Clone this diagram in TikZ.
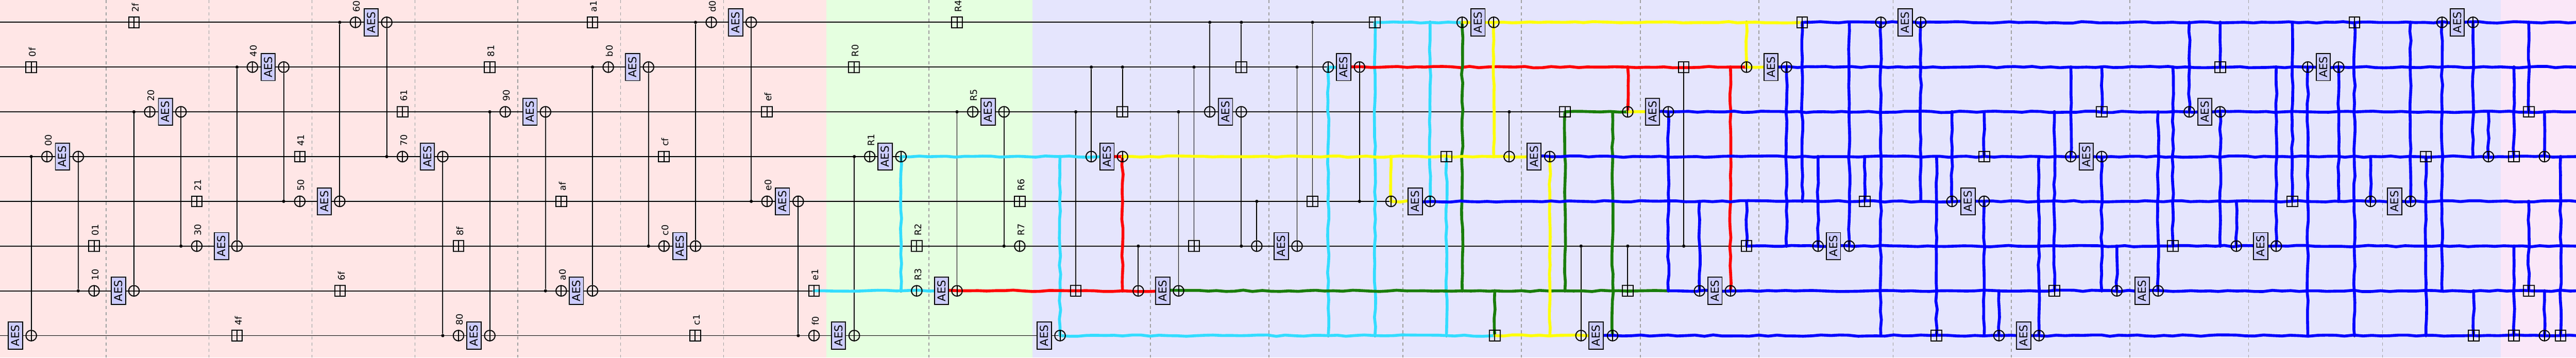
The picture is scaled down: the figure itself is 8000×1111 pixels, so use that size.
\documentclass[tikz,border=0pt]{standalone}
\usepackage{fontspec}
\setmainfont{DejaVu Sans}
\usepackage{tikz}
\usetikzlibrary{positioning,calc,decorations.pathmorphing}
\pgfdeclarelayer{bg}
\pgfdeclarelayer{wires}
\pgfdeclarelayer{trail}
\pgfsetlayers{bg,wires,trail,main}
\definecolor{zonea}{RGB}{255,230,230}
\definecolor{zoneb}{RGB}{229,255,224}
\definecolor{zonec}{RGB}{229,229,253}
\definecolor{zoned}{RGB}{250,231,248}
\definecolor{aesfill}{RGB}{204,204,255}
\definecolor{tcyan}{RGB}{51,221,255}
\definecolor{tred}{RGB}{255,0,0}
\definecolor{tyellow}{RGB}{255,255,0}
\definecolor{tgreen}{RGB}{25,125,10}
\definecolor{tblue}{RGB}{0,0,255}

\begin{document}
\begin{tikzpicture}[x=1pt,y=1pt]
                        \tikzstyle{xorop}=[draw,circle,line width=3.2,minimum size=33,inner sep=0,path picture={\draw[line width=3.2] (path picture bounding box.north) -- (path picture bounding box.south);}]
                        \tikzstyle{addop}=[draw,rectangle,line width=3.2,minimum size=33,inner sep=0,path picture={\draw[line width=3.2] (path picture bounding box.north) -- (path picture bounding box.south);}]
                        \tikzstyle{aes}=[draw,fill=aesfill,rectangle,line width=3,rotate=90,minimum width=84,minimum height=44,inner sep=0,font=\fontsize{34}{40}\selectfont]
                        \tikzstyle{tag}=[rotate=90,anchor=west,inner sep=1,font=\fontsize{28}{32}\selectfont]
                        \tikzstyle{junc}=[circle,fill=black,minimum size=10,inner sep=0]
                        \tikzstyle{wire}=[line width=3]
                        \tikzstyle{sep}=[gray!75,line width=2.5,dash pattern=on 10 off 9]
                        \tikzstyle{trail}=[line width=9,line cap=round,line join=round,decorate,decoration={random steps,segment length=28,amplitude=2.2}]
                        \useasboundingbox (0,0) rectangle (8000,-1111);
                        \pgfmathsetseed{11}
                        {
                            \foreach \r in {0,...,7} {
                                \coordinate (w\r) at (0,{-69.4-139*\r});
                                \coordinate (e\r) at (8000,{-69.4-139*\r});
                            }
                            \foreach \x/\r in {146/3,243/3,97/7,465/2,562/2,292/6,416/6,611/5,736/5,784/1,881/1,931/4,1055/4,1104/0,1201/0,1250/3,1375/3,1424/7,1521/7,1569/2,1694/2,1743/6,1840/6,1889/1,2014/1,2062/5,2160/5,2209/0,2333/0,2382/4,2479/4,2528/7,2653/7,
                                2701/3,2798/3,2847/6,2972/6,3021/2,3118/2,3167/5,
                                3292/7,3389/3,3486/3,3535/6,3660/6,3757/2,3855/2,3903/5,4028/5,4125/1,4222/1,4320/4,4441/4,4541/0,4639/0,4687/3,4813/3,4910/7,5008/7,5055/2,5181/2,
                                5278/6,5374/6,5424/1,5548/1,5646/5,5743/5,5841/0,5965/0,6062/4,6162/4,6208/7,6332/7,6431/3,6527/3,6574/6,6702/6,6799/2,6895/2,6945/5,7069/5,7167/1,7263/1,7362/4,7486/4,7584/0,7680/0,7728/3,7902/3,7902/7} {
                                \node[xorop] (n\x-\r) at (\x,{-69.4-139*\r}) {};
                            }
                            \foreach \x/\r in {416/0,97/1,611/4,292/5,736/7,931/3,1250/2,1521/1,1743/4,1424/5,1056/6,1840/0,2062/3,2382/2,2159/7,2528/6,2652/1,2972/0,2847/5,3167/4,
                                3341/6,3486/2,3708/5,3855/1,4076/4,4270/0,4492/3,4642/7,4860/2,5055/6,5229/1,5424/5,5597/0,5791/4,6014/7,6162/3,6380/6,6527/2,6748/5,6895/1,7119/4,7312/0,7534/3,7682/7,7807/3,7807/7,7853/2,7853/6,7952/7} {
                                \node[addop] (n\x-\r) at (\x,{-69.4-139*\r}) {};
                            }
                            \foreach \x/\r in {48/7,194/3,368/6,514/2,688/5,833/1,1007/4,1153/0,1327/3,1472/7,1646/2,1790/6,1965/1,2111/5,2285/0,2430/4,2604/7,2749/3,2924/6,3069/2,
                                3243/7,3438/3,3611/6,3806/2,3979/5,4173/1,4395/4,4590/0,4764/3,4957/7,5132/2,5326/6,5500/1,5694/5,5917/0,6112/4,6285/7,6479/3,6653/6,6847/2,7021/5,7215/1,7437/4,7631/0} {
                                \node[aes] (a\x-\r) at (\x,{-69.4-139*\r}) {AES};
                            }
                            \foreach \x/\r/\l in {146/3/00,465/2/20,292/6/10,611/5/30,784/1/40,931/4/50,1104/0/60,1250/3/70,1424/7/80,1569/2/90,1743/6/a0,1889/1/b0,2062/5/c0,2209/0/d0,2382/4/e0,2528/7/f0,
                                416/0/2f,97/1/0f,611/4/21,292/5/01,736/7/4f,931/3/41,1250/2/61,1521/1/81,1743/4/af,1424/5/8f,1056/6/6f,1840/0/a1,2062/3/cf,2382/2/ef,2159/7/c1,2528/6/e1,
                                2652/1/R0,2701/3/R1,2847/5/R2,2847/6/R3,2972/0/R4,3021/2/R5,3167/4/R6,3167/5/R7} {
                                \node[tag] (t\x-\r) at ([xshift=4,yshift=13]n\x-\r.north) {\l};
                            }

                            \begin{pgfonlayer}{wires}
                            \foreach \x/\r in {97/3,243/6,416/2,562/5,736/1,881/4,1055/0,1201/3,1375/7,1521/2,1694/6,1840/1,2014/5,2160/0,2333/4,2479/7,2653/3,2798/6,2972/2,3118/5,
                                3292/3,3341/2,3389/1,3486/1,3486/6,3535/5,3660/2,3708/1,3757/0,3855/0,3855/5,3903/4,4028/1,4076/0,4125/7,4222/4,4270/7,4320/3,4441/0,4492/7,4541/6,4639/3,4642/6,4687/2,4813/7,4860/6,4910/5,5008/2,5055/1,5055/5,5181/6,5229/5,
                                5278/4,5374/1,5424/0,5424/4,5548/5,5597/4,5646/3,5743/0,5791/3,5841/7,5965/4,6014/3,6062/2,6162/2,6162/7,6208/6,6332/3,6380/2,6431/1,6527/1,6527/6,6574/5,6702/2,6748/1,6799/0,6895/0,6895/5,6945/4,
                                7069/1,7119/0,7167/7,7263/4,7312/7,7362/3,7486/0,7534/7,7584/6,7680/3,7682/6,7728/2,7807/1,7807/5,7853/0,7853/4,7902/2,7902/6,7952/3} {
                                \node[junc] (n\x-\r) at (\x,{-69.4-139*\r}) {};
                            }
                            \foreach \r in {0,...,7} {
                                \draw[wire] (w\r) -- (e\r);
                            }
                            \foreach \x/\a/\b in {97/3/7,243/3/6,416/2/6,562/2/5,736/1/5,881/1/4,1055/0/4,1201/0/3,1375/3/7,1521/2/7,1694/2/6,1840/1/6,2014/1/5,2160/0/5,2333/0/4,2479/4/7,2653/3/7,2798/3/6,2972/2/6,3118/2/5,
                                3292/3/7,3341/2/6,3389/1/3,3486/1/2,3486/3/6,3535/5/6,3660/2/6,3708/1/5,3757/0/2,3855/0/1,3855/2/5,3903/4/5,4028/1/5,4076/0/4,4125/1/7,4222/1/4,4270/0/7,4320/3/4,4441/0/4,4492/3/7,4541/0/6,4639/0/3,4642/6/7,4687/2/3,4813/3/7,4860/2/6,4910/5/7,5008/2/7,5055/1/2,5055/5/6,5229/1/5,5374/1/6,5424/0/1} {
                                \draw[wire] (n\x-\a) -- (n\x-\b);
                            }
                            \end{pgfonlayer}

                            \begin{pgfonlayer}{trail}
                            \draw[trail,tcyan] (n2528-6.center) -- (n2798-6.center) -- (a2924-6.center);
                            \draw[trail,tcyan] (n2798-6.center) -- (n2798-3.center) -- (n3292-3.center) -- (a3438-3.center);
                            \draw[trail,tcyan] (n3292-3.center) -- (n3292-7.center) -- (n4125-7.center) -- (n4270-7.center) -- (n4492-7.center) -- (n4642-7.center);
                            \draw[trail,tcyan] (n4125-7.center) -- (n4125-1.center) -- (a4173-1.center);
                            \draw[trail,tcyan] (n4270-7.center) -- (n4270-0.center) -- (n4441-0.center) -- (n4541-0.center);
                            \draw[trail,tcyan] (n4441-0.center) -- (n4441-4.center);
                            \draw[trail,tcyan] (n4492-7.center) -- (n4492-3.center);

                            \draw[trail,tred] (a2924-6.center) -- (n3486-6.center) -- (a3611-6.center);
                            \draw[trail,tred] (a3438-3.center) -- (n3486-3.center) -- (n3486-6.center);
                            \draw[trail,tred] (a4173-1.center) -- (n5055-1.center) -- (n5374-1.center) -- (n5424-1.center);
                            \draw[trail,tred] (n5055-1.center) -- (n5055-2.center);
                            \draw[trail,tred] (n5374-1.center) -- (n5374-6.center);

                            \draw[trail,tgreen] (a3611-6.center) -- (n4541-6.center) -- (n4642-6.center) -- (n4860-6.center) -- (n5181-6.center);
                            \draw[trail,tgreen] (n4541-6.center) -- (n4541-0.center);
                            \draw[trail,tgreen] (n4642-6.center) -- (n4642-7.center);
                            \draw[trail,tgreen] (n4860-6.center) -- (n4860-2.center) -- (n5055-2.center);
                            \draw[trail,tgreen] (n5008-2.center) -- (n5008-7.center);

                            \draw[trail,tyellow] (n3486-3.center) -- (n4320-3.center) -- (n4639-3.center) -- (a4764-3.center);
                            \draw[trail,tyellow] (n4320-3.center) -- (n4320-4.center) -- (a4395-4.center);
                            \draw[trail,tyellow] (n4541-0.center) -- (n4639-0.center) -- (n5424-0.center) -- (n5597-0.center);
                            \draw[trail,tyellow] (n4639-0.center) -- (n4639-3.center);
                            \draw[trail,tyellow] (n5424-0.center) -- (n5424-1.center) -- (a5500-1.center);
                            \draw[trail,tyellow] (n4813-3.center) -- (n4813-7.center);
                            \draw[trail,tyellow] (n4642-7.center) -- (a4957-7.center);
                            \draw[trail,tyellow] (n5055-2.center) -- (a5132-2.center);

                            \draw[trail,tblue] (n5597-0.center) -- (e0);
                            \draw[trail,tblue] (a5500-1.center) -- (e1);
                            \draw[trail,tblue] (a5132-2.center) -- (e2);
                            \draw[trail,tblue] (a4764-3.center) -- (e3);
                            \draw[trail,tblue] (a4395-4.center) -- (e4);
                            \draw[trail,tblue] (n5424-5.center) -- (e5);
                            \draw[trail,tblue] (n5181-6.center) -- (e6);
                            \draw[trail,tblue] (a4957-7.center) -- (e7);
                            \foreach \x/\a/\b in {5181/2/6,5278/4/6,5424/4/5,5548/1/5,5597/0/4,5646/3/5,5743/0/5,5791/3/4,5841/0/7,5965/0/4,6014/3/7,6062/2/4,6162/2/3,6162/4/7,6208/6/7,6332/3/7,6380/2/6,6431/1/3,6527/1/2,6527/3/6,6574/5/6,6702/2/6,6748/1/5,6799/0/2,6895/0/1,6895/2/5,6945/4/5,
                                7069/1/5,7119/0/4,7167/1/7,7263/1/4,7312/0/7,7362/3/4,7486/0/4,7534/3/7,7584/0/6,7680/0/3,7682/6/7,7728/2/3,7807/1/3,7807/5/7,7853/0/2,7853/4/6,7902/2/3,7902/6/7,7952/3/7} {
                                \draw[trail,tblue] (n\x-\a.center) -- (n\x-\b.center);
                            }
                            \end{pgfonlayer}

                            \begin{pgfonlayer}{bg}
                            \fill[zonea] (0,0) rectangle (2566,-1111);
                            \fill[zoneb] (2566,0) rectangle (3206,-1111);
                            \fill[zonec] (3206,0) rectangle (7767,-1111);
                            \fill[zoned] (7767,0) rectangle (8000,-1111);
                            \foreach \x in {330,649,969,1289,1608,1927,2247,2885,3573,3941,4357,4725,5094,5462,5879,6246,6614,6983,7399} {
                                \draw[sep] (\x,0) -- (\x,-1111);
                            }
                            \end{pgfonlayer}
                        }
\end{tikzpicture}
\end{document}
